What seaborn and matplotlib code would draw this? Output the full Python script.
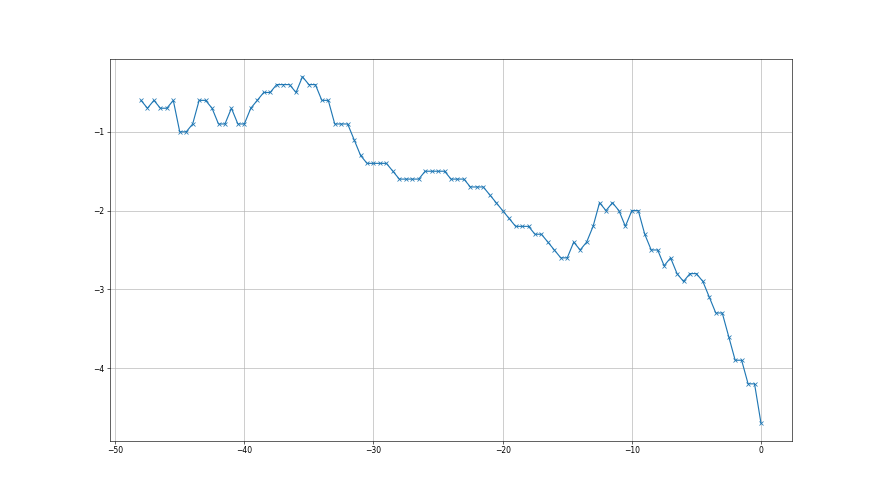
import matplotlib
matplotlib.use("Agg")
import matplotlib.pyplot as plt
import seaborn as sns
import numpy as np
import pandas as pd

# x positions step by 0.5 from -48 to 0
x_vals = np.arange(-48, 0.5, 0.5)

y_vals = [
    -0.6, -0.7, -0.6, -0.7, -0.7, -0.6, -1.0, -1.0, -0.9, -0.6,
    -0.6, -0.7, -0.9, -0.9, -0.7, -0.9, -0.9, -0.7, -0.6, -0.5,
    -0.5, -0.4, -0.4, -0.4, -0.5, -0.3, -0.4, -0.4, -0.6, -0.6,
    -0.9, -0.9, -0.9, -1.1, -1.3, -1.4, -1.4, -1.4, -1.4, -1.5,
    -1.6, -1.6, -1.6, -1.6, -1.5, -1.5, -1.5, -1.5, -1.6, -1.6,
    -1.6, -1.7, -1.7, -1.7, -1.8, -1.9, -2.0, -2.1, -2.2, -2.2,
    -2.2, -2.3, -2.3, -2.4, -2.5, -2.6, -2.6, -2.4, -2.5, -2.4,
    -2.2, -1.9, -2.0, -1.9, -2.0, -2.2, -2.0, -2.0, -2.3, -2.5,
    -2.5, -2.7, -2.6, -2.8, -2.9, -2.8, -2.8, -2.9, -3.1, -3.3,
    -3.3, -3.6, -3.9, -3.9, -4.2, -4.2, -4.7,
]

df = pd.DataFrame({"x": x_vals, "y": y_vals})

fig, ax = plt.subplots(figsize=(16, 9), dpi=55)

sns.lineplot(
    data=df,
    x="x",
    y="y",
    marker="x",
    color="C0",
    markeredgecolor="C0",
    markeredgewidth=1.0,
    ax=ax,
)

ax.grid(True)
ax.set_xlabel("")
ax.set_ylabel("")
ax.set_xticks([-50, -40, -30, -20, -10, 0])
ax.set_yticks([-1, -2, -3, -4])

fig.savefig("out.png", dpi=55)
